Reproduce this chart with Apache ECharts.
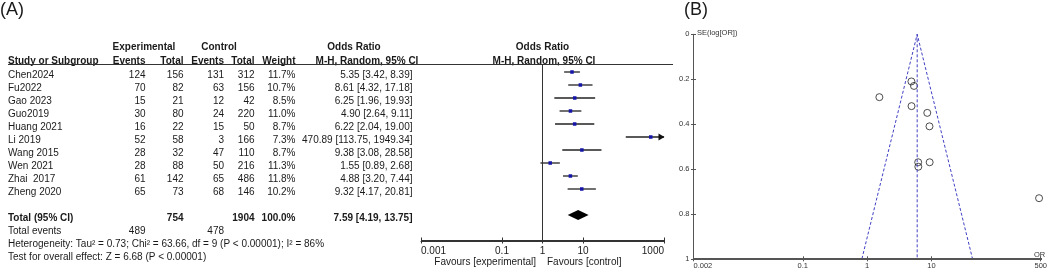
<!DOCTYPE html>
<html><head><meta charset="utf-8">
<script src="https://cdn.jsdelivr.net/npm/echarts@6/dist/echarts.min.js"></script>
<style>html,body{margin:0;padding:0;background:#fff}#c{width:1050px;height:274px}</style>
</head><body><div id="c"></div>
<script>
// ---------- data ----------
const studies   = ['Chen2024','Fu2022','Gao 2023','Guo2019','Huang 2021','Li 2019','Wang 2015','Wen 2021','Zhai  2017','Zheng 2020'];
const expEvents = [124, 70, 15, 30, 16, 52, 28, 28, 61, 65];
const expTotal  = [156, 82, 21, 80, 22, 58, 32, 88, 142, 73];
const ctlEvents = [131, 63, 12, 24, 15, 3, 47, 50, 65, 68];
const ctlTotal  = [312, 156, 42, 220, 50, 166, 110, 216, 486, 146];
const weights   = [11.7, 10.7, 8.5, 11.0, 8.7, 7.3, 8.7, 11.3, 11.8, 10.2];
const orValues  = [5.35, 8.61, 6.25, 4.90, 6.22, 470.89, 9.38, 1.55, 4.88, 9.32];
const ciLow     = [3.42, 4.32, 1.96, 2.64, 2.04, 113.75, 3.08, 0.89, 3.20, 4.17];
const ciHigh    = [8.39, 17.18, 19.93, 9.11, 19.00, 1949.34, 28.58, 2.68, 7.44, 20.81];
const pooledOR  = 7.59, pooledLow = 4.19, pooledHigh = 13.75;
const totalExp = 754, totalCtl = 1904, totalWeight = '100.0%';
const eventsExp = 489, eventsCtl = 478;
const heterogeneityText = 'Heterogeneity: Tau\u00b2 = 0.73; Chi\u00b2 = 63.66, df = 9 (P < 0.00001); I\u00b2 = 86%';
const overallText = 'Test for overall effect: Z = 6.68 (P < 0.00001)';
const forestTicks = [0.001, 0.1, 1, 10, 1000];
const forestMin = 0.001, forestMax = 1000;
// funnel plot
const funnelSE = [0.23, 0.35, 0.59, 0.32, 0.57, 0.73, 0.57, 0.28, 0.21, 0.41];
const funnelCenter = 6.0, funnelLowAt1 = 0.83, funnelHighAt1 = 43.5;
const funnelTicks = [0.002, 0.1, 1, 10, 500];
const funnelMin = 0.002, funnelMax = 500;
const seMin = 0, seMax = 1, seStep = 0.2;

// ---------- rendering ----------
const FONT = '"Liberation Sans", Arial, Helvetica, sans-serif';
const TXT = '#1a1a1a';
const chart = echarts.init(document.getElementById('c'), null, {renderer: 'canvas'});

function txt(x, y, text, align, bold, size, color) {
  return {type: 'text', x: x, y: y, silent: true,
    style: {text: String(text), fill: color || TXT,
      font: (bold ? 'bold ' : '') + (size || 10) + 'px ' + FONT,
      align: align, verticalAlign: 'middle', textAlign: align, textVerticalAlign: 'middle'}};
}
const fmt2 = v => v.toFixed(2);
const ciText = (o, l, h) => fmt2(o) + ' [' + fmt2(l) + ', ' + fmt2(h) + ']';
const tickLabel = list => v => {
  const t = list.find(t => Math.abs(Math.log10(t) - Math.log10(v)) < 1e-6);
  return t !== undefined ? String(t) : '';
};

const col = {name: 8, ee: 145.5, et: 183.5, ce: 224, ct: 254.5, w: 295.5, ci: 412.5};
const g = [];
g.push(txt(0, 10, '(A)', 'left', false, 18));
g.push(txt(684, 10, '(B)', 'left', false, 18));
// headers
g.push(txt(144, 47.5, 'Experimental', 'center', true));
g.push(txt(219, 47.5, 'Control', 'center', true));
g.push(txt(354, 47.5, 'Odds Ratio', 'center', true));
g.push(txt(542.5, 47.5, 'Odds Ratio', 'center', true));
g.push(txt(col.name, 61, 'Study or Subgroup', 'left', true));
g.push(txt(col.ee, 61, 'Events', 'right', true));
g.push(txt(col.et, 61, 'Total', 'right', true));
g.push(txt(col.ce, 61, 'Events', 'right', true));
g.push(txt(col.ct, 61, 'Total', 'right', true));
g.push(txt(col.w, 61, 'Weight', 'right', true));
g.push(txt(367, 61, 'M-H, Random, 95% CI', 'center', true));
g.push(txt(544, 61, 'M-H, Random, 95% CI', 'center', true));
g.push({type: 'line', silent: true, shape: {x1: 8, y1: 64.5, x2: 673, y2: 64.5}, style: {stroke: '#333', lineWidth: 1}});
// axis baselines (frame decoration)
g.push({type: 'rect', silent: true, z: 1000, shape: {x: 421, y: 240, width: 243, height: 2}, style: {fill: '#333'}});
g.push({type: 'rect', silent: true, z: 1000, shape: {x: 693.5, y: 258, width: 348.5, height: 2}, style: {fill: '#555'}});
studies.forEach((s, i) => {
  const y = 75.5 + 13 * i;
  g.push(txt(col.name, y, s, 'left'));
  g.push(txt(col.ee, y, expEvents[i], 'right'));
  g.push(txt(col.et, y, expTotal[i], 'right'));
  g.push(txt(col.ce, y, ctlEvents[i], 'right'));
  g.push(txt(col.ct, y, ctlTotal[i], 'right'));
  g.push(txt(col.w, y, weights[i].toFixed(1) + '%', 'right'));
  g.push(txt(col.ci, y, ciText(orValues[i], ciLow[i], ciHigh[i]), 'right'));
});
const yT = 75.5 + 13 * 11;
g.push(txt(col.name, yT, 'Total (95% CI)', 'left', true));
g.push(txt(col.et, yT, totalExp, 'right', true));
g.push(txt(col.ct, yT, totalCtl, 'right', true));
g.push(txt(col.w, yT, totalWeight, 'right', true));
g.push(txt(col.ci, yT, ciText(pooledOR, pooledLow, pooledHigh), 'right', true));
g.push(txt(col.name, yT + 13, 'Total events', 'left'));
g.push(txt(col.ee, yT + 13, eventsExp, 'right'));
g.push(txt(col.ce, yT + 13, eventsCtl, 'right'));
g.push(txt(col.name, yT + 26, heterogeneityText, 'left'));
g.push(txt(col.name, yT + 39, overallText, 'left'));
g.push(txt(536, 262.5, 'Favours [experimental]', 'right'));
g.push(txt(547, 262.5, 'Favours [control]', 'left'));
g.push(txt(697, 32.5, 'SE(log[OR])', 'left', false, 7.5, '#333'));
g.push(txt(1039.5, 254.5, 'OR', 'center', false, 7.5, '#333'));

const forestRowMin = -8 / 13, forestRowMax = 13;
const forestData = studies.map((s, i) => [i, orValues[i], ciLow[i], ciHigh[i]]);
const pooledData = [[11, pooledOR, pooledLow, pooledHigh]];

const dark = () => ({color: '#333', width: 1});
const grey = () => ({color: '#555', width: 1});

const option = {
  animation: false,
  backgroundColor: '#fff',
  graphic: {elements: g},
  grid: [
    {left: 421, top: 64, width: 243, height: 177},
    {left: 693.5, top: 34.3, width: 348, height: 224.5}
  ],
  xAxis: [
    {type: 'log', logBase: 10, gridIndex: 0, min: forestMin, max: forestMax, position: 'bottom',
      axisLine: {show: true, onZero: false, lineStyle: dark()},
      axisTick: {show: true, inside: false, length: 2.5, customValues: forestTicks, lineStyle: dark()},
      axisLabel: {show: true, customValues: forestTicks, formatter: tickLabel(forestTicks), margin: 5,
        fontFamily: FONT, fontSize: 10, color: TXT, alignMinLabel: 'left', alignMaxLabel: 'right', showMinLabel: true, showMaxLabel: true},
      splitLine: {show: false}},
    {type: 'log', logBase: 10, gridIndex: 0, min: forestMin, max: forestMax, position: 'bottom',
      axisLine: {show: false, onZero: false},
      axisTick: {show: true, inside: true, length: 3.5, customValues: forestTicks, lineStyle: dark()},
      axisLabel: {show: false}, splitLine: {show: false}},
    {type: 'log', logBase: 10, gridIndex: 1, min: funnelMin, max: funnelMax, position: 'bottom',
      axisLine: {show: true, onZero: false, lineStyle: grey()},
      axisTick: {show: true, inside: false, length: 2.5, customValues: funnelTicks, lineStyle: grey()},
      axisLabel: {show: true, customValues: funnelTicks, formatter: tickLabel(funnelTicks), margin: 3,
        fontFamily: FONT, fontSize: 7.5, color: '#333', alignMinLabel: 'left', showMinLabel: true, showMaxLabel: true},
      splitLine: {show: false}},
    {type: 'log', logBase: 10, gridIndex: 1, min: funnelMin, max: funnelMax, position: 'bottom',
      axisLine: {show: false, onZero: false},
      axisTick: {show: true, inside: true, length: 2.5, customValues: funnelTicks, lineStyle: grey()},
      axisLabel: {show: false}, splitLine: {show: false}}
  ],
  yAxis: [
    {type: 'value', gridIndex: 0, inverse: true, min: forestRowMin, max: forestRowMax, show: false},
    {type: 'value', gridIndex: 1, inverse: true, min: seMin, max: seMax, interval: seStep, position: 'left',
      axisLine: {show: true, onZero: false, lineStyle: grey()},
      axisTick: {show: true, inside: false, length: 2.5, lineStyle: grey()},
      axisLabel: {show: true, margin: 4, fontFamily: FONT, fontSize: 7.5, color: '#333'},
      splitLine: {show: false}},
    {type: 'value', gridIndex: 1, inverse: true, min: seMin, max: seMax, interval: seStep, position: 'left',
      axisLine: {show: false, onZero: false},
      axisTick: {show: true, inside: true, length: 2.5, lineStyle: grey()},
      axisLabel: {show: false}, splitLine: {show: false}}
  ],
  series: [
    {type: 'line', xAxisIndex: 0, yAxisIndex: 0, data: [[1, forestRowMin], [1, forestRowMax]], symbol: 'none',
      lineStyle: {color: '#333', width: 1}, silent: true, clip: false},
    {type: 'custom', xAxisIndex: 0, yAxisIndex: 0, data: forestData, encode: {x: [1, 2, 3], y: 0}, clip: false,
      renderItem: function (params, api) {
        const row = api.value(0), o = api.value(1), lo = api.value(2), hi = api.value(3);
        const p1 = api.coord([Math.max(lo, forestMin), row]);
        const p2 = api.coord([Math.min(hi, forestMax), row]);
        const pc = api.coord([o, row]);
        const ch = [{type: 'line', shape: {x1: p1[0], y1: p1[1], x2: p2[0], y2: p2[1]}, style: {stroke: '#222', lineWidth: 1.3}}];
        if (hi > forestMax) {
          ch.push({type: 'polygon', shape: {points: [[p2[0] + 0.5, p2[1]], [p2[0] - 5.5, p2[1] - 3.5], [p2[0] - 5.5, p2[1] + 3.5]]}, style: {fill: '#111'}});
        }
        ch.push({type: 'rect', shape: {x: pc[0] - 1.75, y: pc[1] - 1.75, width: 3.5, height: 3.5}, style: {fill: '#1414a8'}});
        return {type: 'group', children: ch};
      }},
    {type: 'custom', xAxisIndex: 0, yAxisIndex: 0, data: pooledData, encode: {x: [1, 2, 3], y: 0}, clip: false,
      renderItem: function (params, api) {
        const row = api.value(0);
        const pl = api.coord([api.value(2), row]);
        const pm = api.coord([api.value(1), row]);
        const ph = api.coord([api.value(3), row]);
        return {type: 'polygon', shape: {points: [[pl[0], pl[1]], [pm[0], pm[1] - 5], [ph[0], ph[1]], [pm[0], pm[1] + 5]]}, style: {fill: '#000'}};
      }},
    {type: 'line', xAxisIndex: 2, yAxisIndex: 1, data: [[funnelLowAt1, seMax], [funnelCenter, seMin], [funnelHighAt1, seMax]],
      symbol: 'none', lineStyle: {color: '#4040c4', width: 1, type: [3, 2]}, silent: true},
    {type: 'line', xAxisIndex: 2, yAxisIndex: 1, data: [[funnelCenter, seMin], [funnelCenter, seMax]],
      symbol: 'none', lineStyle: {color: '#4040c4', width: 1, type: [3, 2]}, silent: true},
    {type: 'scatter', xAxisIndex: 2, yAxisIndex: 1, data: orValues.map((v, i) => [v, funnelSE[i]]),
      symbol: 'circle', symbolSize: 7, itemStyle: {color: 'rgba(0,0,0,0)', borderColor: '#222', borderWidth: 1}}
  ]
};
chart.setOption(option);
</script>
</body></html>
